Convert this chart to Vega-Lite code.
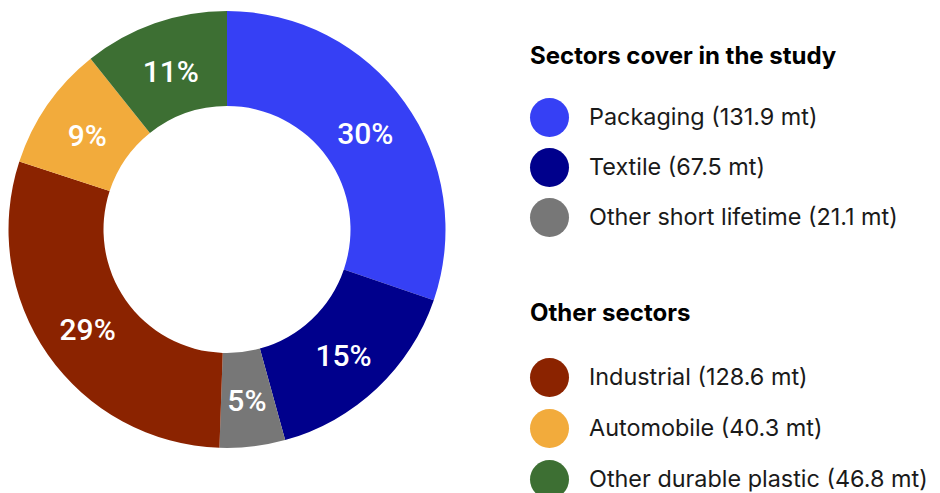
{
  "$schema": "https://vega.github.io/schema/vega-lite/v6.json",
  "width": 454,
  "height": 459,
  "padding": 0,
  "background": "white",
  "config": {
    "view": {"stroke": null},
    "legend": {
      "symbolType": "circle",
      "symbolSize": 1521,
      "symbolStrokeWidth": 0,
      "symbolOpacity": 1,
      "labelFont": "Inter",
      "labelFontSize": 23.4,
      "labelColor": "#1a1a1a",
      "labelOffset": 20,
      "labelLimit": 0,
      "titleFont": "Inter",
      "titleFontSize": 24,
      "titleFontWeight": "bold",
      "titleColor": "#000000",
      "titlePadding": 29,
      "titleLimit": 0,
      "rowPadding": 11,
      "padding": 0
    }
  },
  "data": {
    "values": [
      {"sector": "Packaging (131.9 mt)", "value": 131.9, "group": "study"},
      {"sector": "Textile (67.5 mt)", "value": 67.5, "group": "study"},
      {"sector": "Other short lifetime (21.1 mt)", "value": 21.1, "group": "study"},
      {"sector": "Industrial (128.6 mt)", "value": 128.6, "group": "other"},
      {"sector": "Automobile (40.3 mt)", "value": 40.3, "group": "other"},
      {"sector": "Other durable plastic (46.8 mt)", "value": 46.8, "group": "other"}
    ]
  },
  "transform": [
    {"window": [{"op": "sum", "field": "value", "as": "end"}], "frame": [null, 0]},
    {"calculate": "datum.end - datum.value", "as": "start"},
    {"calculate": "(datum.start + datum.end) / 2", "as": "mid"},
    {"joinaggregate": [{"op": "sum", "field": "value", "as": "total"}]},
    {"calculate": "datum.value / datum.total", "as": "pct"}
  ],
  "layer": [
    {
      "transform": [{"filter": "datum.group === 'study'"}],
      "mark": {"type": "arc", "innerRadius": 123.5, "outerRadius": 218.5},
      "encoding": {
        "theta": {"field": "end", "type": "quantitative", "scale": {"nice": false, "zero": true}},
        "theta2": {"field": "start"},
        "color": {
          "field": "sector",
          "type": "nominal",
          "scale": {
            "domain": ["Packaging (131.9 mt)", "Textile (67.5 mt)", "Other short lifetime (21.1 mt)"],
            "range": ["#3640F5", "#00008C", "#777777"]
          },
          "legend": {"title": "Sectors cover in the study", "orient": "none", "legendX": 530, "legendY": 45}
        }
      }
    },
    {
      "transform": [{"filter": "datum.group === 'other'"}],
      "mark": {"type": "arc", "innerRadius": 123.5, "outerRadius": 218.5},
      "encoding": {
        "theta": {"field": "end", "type": "quantitative"},
        "theta2": {"field": "start"},
        "color": {
          "field": "sector",
          "type": "nominal",
          "scale": {
            "domain": ["Industrial (128.6 mt)", "Automobile (40.3 mt)", "Other durable plastic (46.8 mt)"],
            "range": ["#8B2300", "#F2AB3C", "#3D6F33"]
          },
          "legend": {"title": "Other sectors", "orient": "none", "legendX": 530, "legendY": 302, "titlePadding": 32, "rowPadding": 12}
        }
      }
    },
    {
      "mark": {"type": "text", "radius": 170, "dy": 4, "font": "Roboto", "fontSize": 30, "fontWeight": 500, "color": "#ffffff", "align": "center", "baseline": "middle"},
      "encoding": {
        "theta": {"field": "mid", "type": "quantitative"},
        "text": {"field": "pct", "type": "quantitative", "format": ".0%"}
      }
    }
  ],
  "resolve": {"scale": {"color": "independent"}}
}
